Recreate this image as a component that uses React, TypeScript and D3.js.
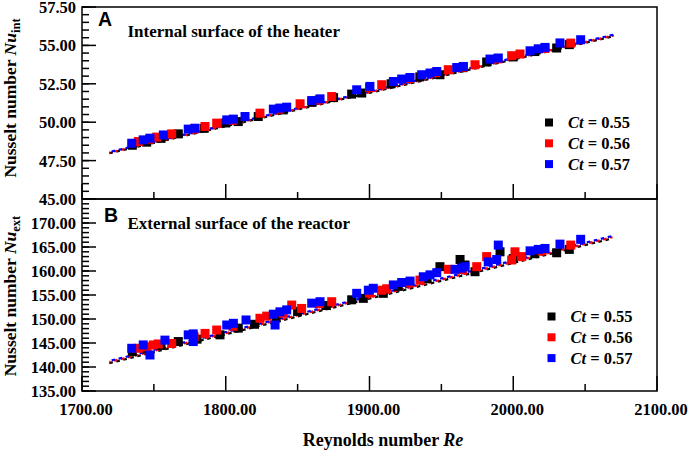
import React from "react";
import * as d3 from "d3";

// ---------- DATA ----------
const seriesNames = ["0.55", "0.56", "0.57"];
const seriesColors = ["#000000", "#ff0000", "#0000ff"];

const xTicks = [1700, 1800, 1900, 2000, 2100];
const topYTicks = [45, 47.5, 50, 52.5, 55, 57.5];
const bottomYTicks = [135, 140, 145, 150, 155, 160, 165, 170];

// Top panel: internal surface of the heater  [Re, Nu_int]
const topBlack: [number, number][] = [
  [1735, 48.5], [1745, 48.7], [1755, 48.95], [1767.0, 49.24], [1785, 49.6], [1800, 49.95],
  [1808.7, 50.04], [1822.6, 50.37], [1840, 50.8], [1860, 51.3], [1875, 51.6], [1887.6, 51.83],
  [1894.6, 51.9], [1915, 52.5], [1935, 52.95], [1949.0, 53.09], [1965, 53.55], [1981.5, 53.92],
  [2000, 54.25], [2015, 54.6], [2030.2, 54.83], [2039.0, 55.05],
];
const topRed: [number, number][] = [
  [1739.2, 48.74], [1747, 48.9], [1752.0, 49.03], [1762.4, 49.24], [1778, 49.55], [1785.6, 49.72],
  [1793.7, 49.94], [1805, 50.12], [1823.8, 50.59], [1837, 50.85], [1851.7, 51.2], [1865, 51.45],
  [1873.7, 51.67], [1900, 52.25], [1908.5, 52.44], [1928, 52.85], [1946, 53.22], [1954.8, 53.42],
  [1965, 53.58], [1973.4, 53.74], [1989, 54.12], [1998.9, 54.33], [2004.7, 54.44], [2022, 54.8],
  [2040, 55.15],
];
const topBlue: [number, number][] = [
  [1734.6, 48.63], [1742.6, 48.85], [1747.3, 48.96], [1756.6, 49.17], [1773.9, 49.55], [1778.6, 49.61],
  [1800.7, 50.15], [1805.3, 50.2], [1813.4, 50.37], [1833.1, 50.85], [1837.7, 50.92], [1842.4, 50.98],
  [1859.8, 51.41], [1865.6, 51.52], [1891.1, 52.11], [1900.3, 52.33], [1916.6, 52.65], [1922.4, 52.81],
  [1928.2, 52.91], [1936.3, 53.09], [1942.1, 53.2], [1946.8, 53.3], [1960.7, 53.56], [1965.3, 53.63],
  [1983.8, 54.11], [1989.6, 54.18], [2011.7, 54.65], [2017.4, 54.78], [2022.1, 54.87], [2032.5, 55.16],
  [2046.9, 55.37],
];

// Bottom panel: external surface of the reactor  [Re, Nu_ext]
const bottomBlack: [number, number][] = [
  [1735, 143.2], [1745, 143.8], [1755, 144.5], [1767, 145.3], [1780, 145.8], [1796, 146.7],
  [1808.7, 148.1], [1820, 148.9], [1835, 150.2], [1850, 151.6], [1870, 152.8], [1887.6, 154.0],
  [1895.7, 154.3], [1909.6, 155.35], [1920, 156.8], [1940, 158.4], [1949, 160.9], [1963, 162.4],
  [1966.4, 161.25], [1973.4, 159.85], [1990.8, 164.0], [2000, 162.6], [2015, 163.6], [2030.2, 163.8],
  [2039.0, 164.5],
];
const bottomRed: [number, number][] = [
  [1739.2, 143.9], [1745, 144.2], [1749.6, 144.6], [1753, 144.8], [1762.4, 144.9], [1778, 146.3],
  [1785.6, 147.0], [1793.7, 147.7], [1805, 148.5], [1823.8, 150.15], [1828.5, 150.6], [1840, 151.2],
  [1845.9, 152.9], [1852.8, 152.2], [1865, 153.2], [1873.7, 153.6], [1900, 155.4], [1908.5, 156.0],
  [1912, 156.3], [1928, 157.5], [1935.1, 158.1], [1954.8, 160.35], [1965, 160.3], [1974.6, 160.9],
  [1981.5, 163.0], [1998.9, 162.3], [2001.2, 164.0], [2005.9, 163.0], [2020, 164.2], [2040, 165.4],
];
const bottomBlue: [number, number][] = [
  [1734.6, 143.9], [1742.6, 144.6], [1747.3, 142.5], [1757.7, 145.6], [1773.9, 146.7], [1777.4, 146.9],
  [1777.4, 145.3], [1800.7, 148.75], [1805.3, 149.1], [1814.1, 149.8], [1833.1, 151.0], [1834.3, 148.75],
  [1837.7, 151.5], [1842.4, 151.9], [1859.8, 153.3], [1865.6, 153.6], [1891.1, 155.35], [1899.2, 156.0],
  [1902.6, 156.4], [1916.6, 157.1], [1922.4, 157.6], [1928.2, 157.9], [1937.4, 158.8], [1942.1, 159.2],
  [1946.8, 159.65], [1959.5, 160.35], [1964.1, 160.6], [1966.4, 160.9], [1982.6, 161.9], [1988.5, 162.4],
  [1989.6, 165.4], [2011.7, 164.2], [2017.4, 164.5], [2022.1, 164.7], [2032.5, 165.6], [2046.9, 166.6],
];

// Linear fit lines (endpoints) per series
const topFits: [number, number][][] = [
  [[1719, 47.98], [2070, 55.6]],
  [[1719, 48.02], [2070, 55.65]],
  [[1719, 48.06], [2070, 55.7]],
];
const bottomFits: [number, number][][] = [
  [[1719, 140.8], [2069, 166.8]],
  [[1719, 141.05], [2069, 167.05]],
  [[1719, 141.25], [2069, 167.3]],
];

// ---------- LAYOUT ----------
const W = 692, H = 451;
const L = 82, R = 657;
const topY0 = 7, mid = 199, botY1 = 391;
const serif = "'Liberation Serif', 'Times New Roman', serif";
const sans = "'Liberation Sans', Arial, sans-serif";

const x = d3.scaleLinear().domain([1700, 2100]).range([L, R]);
const yTop = d3.scaleLinear().domain([45, 57.5]).range([mid, topY0]);
const yBot = d3.scaleLinear().domain([135, 175]).range([botY1, mid]);

function Panel(props: {
  y: d3.ScaleLinear<number, number>;
  yTicks: number[];
  minorStep: number;
  series: [number, number][][];
  fits: [number, number][][];
  letter: string;
  letterPos: [number, number];
  title: string;
  titleY: number;
  legendPos: [number, number];
  showBottomLabel: boolean;
}) {
  const { y, yTicks, minorStep, series, fits } = props;
  const [d0, d1] = y.domain();
  const minors = d3.range(d0, d1 + 1e-9, minorStep);
  const xMinor = d3.range(1750, 2100, 100);
  const yTop0 = y.range()[1];
  const yBottom = y.range()[0];
  const line = d3.line<[number, number]>().x((d) => x(d[0])).y((d) => y(d[1]));
  const ms = 9;
  const dashOffsets = [0, 2.4, 4.8];
  return (
    <g>
      {/* fit lines */}
      {fits.map((f, i) => (
        <path key={"f" + i} d={line(f) || ""} fill="none" stroke={seriesColors[i]} strokeWidth={2.2}
          strokeDasharray="3.6 3.6" strokeDashoffset={dashOffsets[i]} />
      ))}
      {/* markers */}
      {series.map((s, i) => (
        <g key={"s" + i} fill={seriesColors[i]}>
          {s.map((p, j) => (
            <rect key={j} x={x(p[0]) - ms / 2} y={y(p[1]) - ms / 2} width={ms} height={ms} />
          ))}
        </g>
      ))}
      {/* frame */}
      <rect x={L} y={yTop0} width={R - L} height={yBottom - yTop0} fill="none" stroke="#000" strokeWidth={1.5} />
      {/* y ticks */}
      {minors.map((v, i) => (
        <line key={"ym" + i} x1={L} x2={L + 7} y1={y(v)} y2={y(v)} stroke="#000" strokeWidth={1.5} />
      ))}
      {yTicks.map((v, i) => (
        <line key={"yM" + i} x1={L} x2={L + 14} y1={y(v)} y2={y(v)} stroke="#000" strokeWidth={1.5} />
      ))}
      {yTicks.map((v, i) => (
        <text key={"yl" + i} x={L - 6} y={y(v)} dy="0.36em" textAnchor="end" fontFamily={serif}
          fontWeight="bold" fontSize={16.5}>{v.toFixed(2)}</text>
      ))}
      {/* x ticks */}
      {xTicks.map((v, i) => (
        <line key={"xM" + i} x1={x(v)} x2={x(v)} y1={yBottom} y2={yBottom - 15} stroke="#000" strokeWidth={1.5} />
      ))}
      {xMinor.map((v, i) => (
        <line key={"xm" + i} x1={x(v)} x2={x(v)} y1={yBottom} y2={yBottom - 7} stroke="#000" strokeWidth={1.5} />
      ))}
      {props.showBottomLabel && xTicks.map((v, i) => (
        <text key={"xl" + i} x={x(v) + 4} y={415} textAnchor="middle" fontFamily={serif}
          fontWeight="bold" fontSize={16.5}>{v.toFixed(2)}</text>
      ))}
      {/* panel letter and title */}
      <text x={props.letterPos[0]} y={props.letterPos[1]} fontFamily={sans} fontWeight="bold" fontSize={19.5}>{props.letter}</text>
      <text x={127.5} y={props.titleY} fontFamily={serif} fontWeight="bold" fontSize={17}>{props.title}</text>
      {/* legend */}
      {seriesNames.map((n, i) => {
        const [lx, ly] = props.legendPos;
        const yy = ly + i * 20.8;
        return (
          <g key={"lg" + i}>
            <rect x={lx - 4} y={yy - 4} width={8} height={8} fill={seriesColors[i]} />
            <text x={lx + 19} y={yy + 5.5} fontFamily={serif} fontWeight="bold" fontSize={16.5}>
              <tspan fontStyle="italic">Ct</tspan>{" = " + n}
            </text>
          </g>
        );
      })}
    </g>
  );
}

export default function App() {
  return (
    <svg width={W} height={H} viewBox={`0 0 ${W} ${H}`} style={{ position: "absolute", left: 0, top: 0, background: "#fff" }}>
      <rect width={W} height={H} fill="#fff" />
      <Panel y={yTop} yTicks={topYTicks} minorStep={0.5} series={[topBlack, topRed, topBlue]} fits={topFits}
        letter="A" letterPos={[98, 25.8]} title="Internal surface of the heater" titleY={37.3} legendPos={[549, 122.5]}
        showBottomLabel={false} />
      <Panel y={yBot} yTicks={bottomYTicks} minorStep={1} series={[bottomBlack, bottomRed, bottomBlue]} fits={bottomFits}
        letter="B" letterPos={[104, 222]} title="External surface of the reactor" titleY={229.3} legendPos={[551.5, 316.5]}
        showBottomLabel={true} />
      {/* axis titles */}
      <text transform={`translate(16,98) rotate(-90)`} textAnchor="middle" fontFamily={serif} fontWeight="bold" fontSize={17.5}>
        Nusselt number <tspan fontStyle="italic">Nu</tspan><tspan fontSize={12.5} dy={4}>int</tspan>
      </text>
      <text transform={`translate(16,296) rotate(-90)`} textAnchor="middle" fontFamily={serif} fontWeight="bold" fontSize={17.5}>
        Nusselt number <tspan fontStyle="italic">Nu</tspan><tspan fontSize={12.5} dy={4}>ext</tspan>
      </text>
      <text x={383} y={446} textAnchor="middle" fontFamily={serif} fontWeight="bold" fontSize={18}>
        Reynolds number <tspan fontStyle="italic">Re</tspan>
      </text>
    </svg>
  );
}
